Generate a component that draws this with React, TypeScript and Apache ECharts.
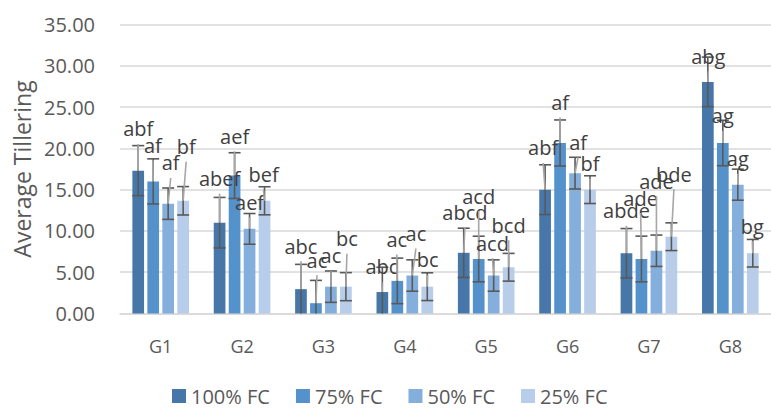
import React, { useEffect, useRef } from "react";
import * as echarts from "echarts";

const categories = ["G1", "G2", "G3", "G4", "G5", "G6", "G7", "G8"];
const seriesNames = ["100% FC", "75% FC", "50% FC", "25% FC"];
const yTicks = [0, 5, 10, 15, 20, 25, 30, 35];

const fc100 = [17.3, 11.0, 2.95, 2.6, 7.35, 15.0, 7.3, 28.05];
const fc75 = [16.0, 16.7, 1.25, 3.95, 6.6, 20.65, 6.6, 20.65];
const fc50 = [13.3, 10.25, 3.25, 4.6, 4.6, 17.0, 7.6, 15.6];
const fc25 = [13.65, 13.65, 3.25, 3.25, 5.6, 15.0, 9.3, 7.3];

const err100 = [3.03, 3.06, 3.0, 3.0, 2.98, 3.01, 2.99, 3.0];
const err75 = [2.73, 2.77, 2.76, 2.76, 2.76, 2.79, 2.77, 2.75];
const err50 = [1.9, 1.86, 1.9, 1.9, 1.9, 1.92, 1.9, 1.88];
const err25 = [1.72, 1.7, 1.7, 1.68, 1.68, 1.68, 1.68, 1.67];

const lab100 = ["abf", "abef", "abc", "abc", "abcd", "abf", "abde", "abg"];
const lab75 = ["af", "aef", "ac", "ac", "acd", "af", "ade", "ag"];
const lab50 = ["af", "aef", "ac", "ac", "acd", "af", "ade", "ag"];
const lab25 = ["bf", "bef", "bc", "bc", "bcd", "bf", "bde", "bg"];

// label placement offsets (px) relative to the bar top centre
const off100 = [[0, -41.7], [0, -44], [0, -43], [-0.5, -25.3], [1.2, -40.5], [-2, -41.7], [0, -42.5], [0.5, -25.6]];
const off75 = [[-0.3, -36.2], [0, -39.3], [1, -43], [-0.5, -41.3], [0, -63], [0, -40.5], [-0.8, -61], [0, -27]];
const off50 = [[2.5, -40.7], [0, -26.5], [0, -30.7], [3.6, -42], [-1.2, -32.4], [3, -30.8], [0, -69.5], [0, -26]];
const off25 = [[3, -54], [-1, -26], [1, -48], [0.3, -26.7], [0, -42], [0, -26], [2.5, -62.5], [-0.5, -27]];

const colors = ["#4677A8", "#5592CB", "#84AEDC", "#B7CDEA"];

const values = [fc100, fc75, fc50, fc25];
const errors = [err100, err75, err50, err25];
const labels = [lab100, lab75, lab50, lab25];
const offsets = [off100, off75, off50, off25];

const BAR_W = 11.7;
const BAR_GAP = 0.28;
const FONT = "'Open Sans', 'Noto Sans', sans-serif";

export default function App() {
  const ref = useRef<HTMLDivElement>(null);

  useEffect(() => {
    if (!ref.current) return;
    const chart = echarts.init(ref.current, undefined, { renderer: "svg" });

    const points: number[][] = [];
    for (let k = 0; k < 4; k++) {
      for (let i = 0; i < categories.length; i++) {
        points.push([i, k, values[k][i], errors[k][i]]);
      }
    }
    const step = BAR_W * (1 + BAR_GAP);

    const barX = (api: any, cat: number, k: number, v: number) => {
      const c = api.coord([cat, v]);
      return [c[0] + (k - 1.5) * step, c[1]];
    };

    const errorItem = (params: any, api: any) => {
      const cat = api.value(0);
      const k = api.value(1);
      const v = api.value(2);
      const e = api.value(3);
      const [x] = barX(api, cat, k, v);
      const yHi = api.coord([cat, v + e])[1];
      const lowV = v - e;
      const yLo = api.coord([cat, Math.max(0, lowV)])[1];
      const st = { stroke: "#595959", lineWidth: 1.6 };
      const children: any[] = [
        { type: "line", shape: { x1: x, y1: yHi, x2: x, y2: yLo }, style: st },
        { type: "line", shape: { x1: x - 6, y1: yHi, x2: x + 6, y2: yHi }, style: st },
      ];
      if (lowV >= 0) {
        children.push({ type: "line", shape: { x1: x - 6, y1: yLo, x2: x + 6, y2: yLo }, style: st });
      }
      return { type: "group", children };
    };

    const labelItem = (params: any, api: any) => {
      const cat = api.value(0);
      const k = api.value(1);
      const v = api.value(2);
      const [x, top] = barX(api, cat, k, v);
      const o = offsets[k][cat];
      const lx = x + o[0];
      const ly = top + o[1];
      const children: any[] = [];
      const start = ly + 15;
      if (top - start > 10) {
        children.push({
          type: "line",
          shape: { x1: lx, y1: start, x2: x, y2: top },
          style: { stroke: "#A6A6A6", lineWidth: 1.6 },
        });
      }
      children.push({
        type: "text",
        x: lx,
        y: ly,
        style: {
          text: labels[k][cat],
          fill: "#404040",
          fontSize: 20,
          fontFamily: FONT,
          align: "center",
          verticalAlign: "middle",
        },
      });
      return { type: "group", children };
    };

    const option: any = {
      animation: false,
      backgroundColor: "#ffffff",
      grid: { left: 120, top: 24.5, width: 658.4, bottom: 94.5, containLabel: false },
      legend: {
        data: seriesNames,
        left: 172,
        top: 386,
        icon: "rect",
        itemWidth: 14,
        itemHeight: 14,
        itemGap: 26,
        padding: 0,
        textStyle: { fontSize: 20, fontFamily: FONT, color: "#595959" },
      },
      xAxis: {
        type: "category",
        data: categories,
        axisTick: { show: false },
        axisLine: { lineStyle: { color: "#D9D9D9", width: 1.5 } },
        axisLabel: { margin: 23, fontSize: 18, fontFamily: FONT, color: "#595959" },
      },
      yAxis: {
        type: "value",
        min: yTicks[0],
        max: yTicks[yTicks.length - 1],
        interval: 5,
        name: "Average Tillering",
        nameLocation: "middle",
        nameGap: 86,
        nameTextStyle: { fontSize: 23, fontFamily: FONT, color: "#595959" },
        axisLine: { show: false },
        axisTick: { show: false },
        splitLine: { lineStyle: { color: "#D9D9D9", width: 1.5 } },
        axisLabel: {
          margin: 25,
          fontSize: 20,
          fontFamily: FONT,
          color: "#595959",
          formatter: (v: number) => v.toFixed(2),
        },
      },
      series: [
        ...seriesNames.map((name, k) => ({
          name,
          type: "bar",
          data: values[k],
          barWidth: BAR_W,
          barGap: `${BAR_GAP * 100}%`,
          itemStyle: { color: colors[k] },
          z: 2,
        })),
        {
          type: "custom",
          renderItem: errorItem,
          data: points,
          encode: { x: 0, y: 2 },
          z: 3,
          silent: true,
        },
        {
          type: "custom",
          renderItem: labelItem,
          data: points,
          encode: { x: 0, y: 2 },
          z: 4,
          silent: true,
          clip: false,
        },
      ],
    };

    chart.setOption(option);
    return () => chart.dispose();
  }, []);

  return (
    <div
      ref={ref}
      style={{ position: "fixed", left: 0, top: 0, width: 771, height: 408, background: "#fff" }}
    />
  );
}
